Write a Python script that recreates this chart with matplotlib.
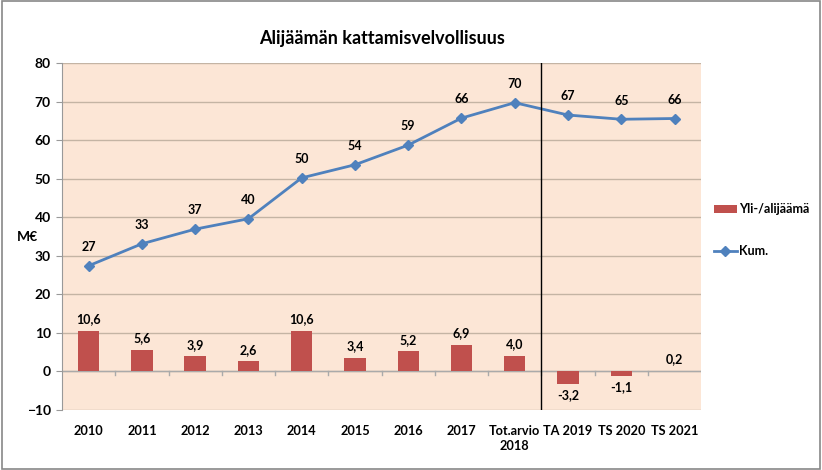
import matplotlib
matplotlib.use('Agg')
import matplotlib.pyplot as plt
import numpy as np
from matplotlib.patches import Rectangle

# Data
categories = ['2010', '2011', '2012', '2013', '2014', '2015', '2016', '2017',
              'Tot.arvio\n2018', 'TA 2019', 'TS 2020', 'TS 2021']
yli_alijaama = [10.6, 5.6, 3.9, 2.6, 10.6, 3.4, 5.2, 6.9, 4.0, -3.2, -1.1, 0.2]
kum = [27.4, 33.1, 36.9, 39.6, 50.2, 53.6, 58.7, 65.7, 69.7, 66.5, 65.4, 65.6]
kum_labels = ['27', '33', '37', '40', '50', '54', '59', '66', '70', '67', '65', '66']

plt.rcParams['font.family'] = ['Lato', 'DejaVu Sans']
plt.rcParams['font.weight'] = 'bold'

bar_color = '#C0504D'
line_color = '#4F81BD'
bg_color = '#FCE6D6'
grid_color = '#C4B4A4'

fig = plt.figure(figsize=(8.22, 4.70), dpi=100)
ax = fig.add_axes([0.0754, 0.1277, 0.7776, 0.7383])
ax.set_facecolor(bg_color)

x = np.arange(len(categories))

bars = ax.bar(x, yli_alijaama, width=0.4, color=bar_color, label='Yli-/alijäämä', zorder=3)
line, = ax.plot(x, kum, color=line_color, lw=2, marker='D', markersize=5,
                label='Kum.', zorder=4)

# data labels
for xi, v in zip(x, yli_alijaama):
    txt = f'{v:.1f}'.replace('.', ',')
    if v >= 0:
        ax.text(xi, v + 1.5, txt, ha='center', va='bottom', fontsize=9, fontweight='bold')
    else:
        ax.text(xi, v - 1.5, txt, ha='center', va='top', fontsize=9, fontweight='bold')
for xi, v, lab in zip(x, kum, kum_labels):
    ax.text(xi, v + 3.3, lab, ha='center', va='bottom', fontsize=9, fontweight='bold')

# separator line between 2018 and 2019
ax.axvline(8.5, color='black', lw=1, zorder=5)

ax.set_ylim(-10, 80)
ax.set_xlim(-0.5, len(categories) - 0.5)
ax.set_yticks(range(-10, 81, 10))
ax.yaxis.grid(True, color=grid_color, lw=1)
ax.set_axisbelow(True)

ax.set_xticks(x)
ax.set_xticklabels(categories, fontsize=9.2, fontweight='bold', linespacing=1.3)
ax.tick_params(axis='x', length=0, pad=11)
ax.tick_params(axis='y', labelsize=10, length=4, color='#999999', pad=4)

# category tick marks on the zero line
for xb in np.arange(0.5, len(categories) - 0.5, 1.0):
    ax.plot([xb, xb], [-1.0, 0], color='#AAAAAA', lw=1, zorder=2)
ax.axhline(0, color='#AAAAAA', lw=1, zorder=2)

for s in ['top', 'right', 'bottom']:
    ax.spines[s].set_visible(False)
ax.spines['left'].set_color('#999999')

ax.set_title('Alijäämän kattamisvelvollisuus', fontsize=13, fontweight='bold', pad=14)
fig.text(0.021, 0.495, 'M€', fontsize=10, fontweight='bold', va='center')

fig.legend([bars, line], ['Yli-/alijäämä', 'Kum.'], loc='center left',
           bbox_to_anchor=(0.855, 0.51), frameon=False,
           fontsize=9, labelspacing=2.4, handlelength=1.8, handletextpad=0.2)

# outer frame
fig.patches.append(Rectangle((0.002, 0.003), 0.995, 0.994, transform=fig.transFigure,
                             fill=False, edgecolor='#888888', lw=1.2))

fig.savefig('out.png', dpi=100)
